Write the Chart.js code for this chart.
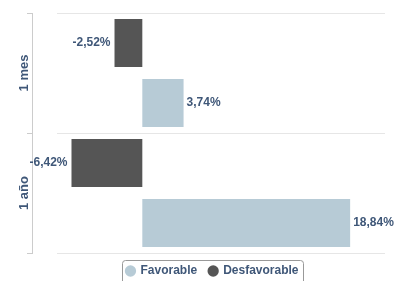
<!DOCTYPE html>
<html>
<head>
<meta charset="utf-8">
<script src="https://cdn.jsdelivr.net/npm/chart.js@4"></script>
<style>
  html, body { margin: 0; padding: 0; background: #fff; overflow: hidden; }
  #wrap { width: 398px; height: 281px; overflow: hidden; }
</style>
</head>
<body>
<div id="wrap"><canvas id="chart" width="398" height="292"></canvas></div>
<script>
// datos del gráfico
const categories = ['1 mes', '1 año'];
const favorable = [3.74, 18.84];
const desfavorable = [-2.52, -6.42];

const textColor = '#3f5778';
const font = "'Liberation Sans', Arial, sans-serif";

const fmt = v => v.toFixed(2).replace('.', ',') + '%';

// etiquetas de valor junto a cada barra
const valueLabels = {
    id: 'valueLabels',
    afterDatasetsDraw(chart) {
        const ctx = chart.ctx;
        ctx.save();
        ctx.font = 'bold 12px ' + font;
        ctx.fillStyle = textColor;
        ctx.textBaseline = 'middle';
        chart.data.datasets.forEach((ds, di) => {
            chart.getDatasetMeta(di).data.forEach((bar, i) => {
                const v = ds.data[i];
                ctx.textAlign = v < 0 ? 'right' : 'left';
                ctx.fillText(fmt(v), v < 0 ? bar.x - 4 : bar.x + 3, bar.y);
            });
        });
        ctx.restore();
    }
};

// líneas horizontales y etiquetas verticales de categoría
const categoryAxis = {
    id: 'categoryAxis',
    afterLayout(chart) {
        // la leyenda va centrada sobre el área del gráfico, no sobre el lienzo
        chart.legend.left += 20;
        chart.legend.right += 20;
    },
    beforeDatasetsDraw(chart) {
        const ctx = chart.ctx;
        const y = chart.scales.y;
        const right = chart.chartArea.right;
        ctx.save();
        ctx.strokeStyle = '#e6e6e6';
        ctx.lineWidth = 1;
        for (let i = 0; i <= categories.length; i++) {
            const py = Math.round(y.getPixelForValue(i - 0.5)) + 0.5;
            ctx.beginPath();
            ctx.moveTo(57, py);
            ctx.lineTo(right, py);
            ctx.stroke();
        }
        ctx.restore();
    },
    afterDraw(chart) {
        const ctx = chart.ctx;
        const y = chart.scales.y;
        ctx.save();
        ctx.font = 'bold 13px ' + font;
        ctx.fillStyle = textColor;
        ctx.textAlign = 'center';
        ctx.textBaseline = 'middle';
        categories.forEach((c, i) => {
            ctx.save();
            ctx.translate(24, y.getPixelForValue(i));
            ctx.rotate(-Math.PI / 2);
            ctx.fillText(c, 0, 0);
            ctx.restore();
        });

        // marco de la leyenda
        const boxes = chart.legend.legendHitBoxes;
        if (boxes && boxes.length) {
            const left = Math.min(...boxes.map(b => b.left)) - 4;
            const rightB = Math.max(...boxes.map(b => b.left + b.width)) + 5;
            const top = boxes[0].top - 5;
            ctx.strokeStyle = '#999999';
            ctx.lineWidth = 1;
            ctx.beginPath();
            ctx.roundRect(Math.round(left) + 0.5, Math.round(top) + 0.5, Math.round(rightB - left), 30, 3);
            ctx.stroke();
        }
        ctx.restore();
    }
};

new Chart(document.getElementById('chart'), {
    type: 'bar',
    data: {
        labels: categories,
        datasets: [{
            label: 'Desfavorable',
            data: desfavorable,
            backgroundColor: '#555555',
            borderWidth: 0
        }, {
            label: 'Favorable',
            data: favorable,
            backgroundColor: '#b7cbd6',
            borderWidth: 0
        }]
    },
    options: {
        indexAxis: 'y',
        responsive: false,
        animation: false,
        devicePixelRatio: 1,
        layout: { padding: { top: 13, right: 13, left: 0, bottom: 5 } },
        datasets: {
            bar: { categoryPercentage: 1, barPercentage: 0.8 }
        },
        scales: {
            x: {
                type: 'linear',
                min: -10,
                max: 22,
                display: false
            },
            y: {
                grid: {
                    drawOnChartArea: false,
                    drawTicks: true,
                    tickLength: 5,
                    color: '#cccccc'
                },
                border: { display: true, color: '#cccccc' },
                ticks: { display: false },
                afterFit(scale) { scale.width = 32; }
            }
        },
        plugins: {
            tooltip: { enabled: false },
            legend: {
                position: 'bottom',
                reverse: true,
                labels: {
                    usePointStyle: true,
                    pointStyle: 'circle',
                    boxWidth: 8,
                    boxHeight: 8,
                    padding: 12,
                    color: textColor,
                    font: { family: font, size: 12, weight: 'bold' }
                }
            }
        }
    },
    plugins: [categoryAxis, valueLabels]
});
</script>
</body>
</html>
